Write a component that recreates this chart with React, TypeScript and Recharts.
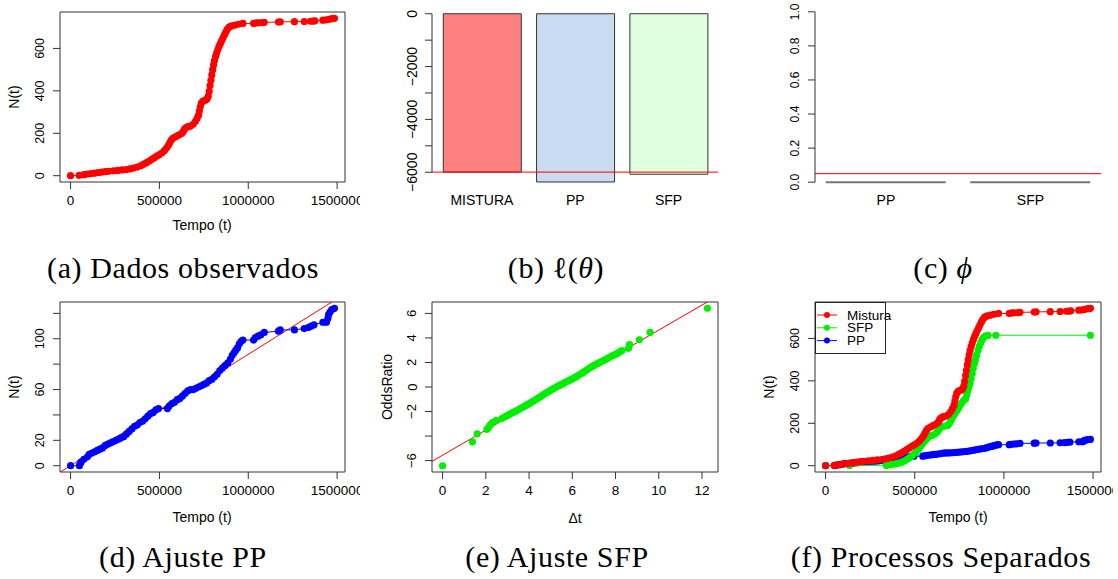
import React from "react";
import {
  Bar,
  BarChart,
  Cell,
  Legend,
  ReferenceArea,
  ReferenceLine,
  Scatter,
  ScatterChart,
  XAxis,
  YAxis,
} from "recharts";

const SANS = "'Liberation Sans', Arial, Helvetica, sans-serif";
const SERIF = "'Liberation Serif', 'Times New Roman', serif";
const RED = "#ff0000";
const GREEN = "#00ee00";
const BLUE = "#0000ff";
const AXIS = "#333333";

// N(t) of the mixed process (a) and (f)
const MISTURA: [number, number][] = [
  [0, 0], [48000, 2], [75000, 5], [95000, 8], [115000, 10], [135000, 12], [155000, 15],
  [175000, 17], [195000, 19], [215000, 21], [240000, 23], [265000, 25], [290000, 27],
  [315000, 29], [335000, 32], [355000, 36], [375000, 41], [395000, 47], [410000, 54],
  [425000, 60], [440000, 68], [455000, 76], [470000, 84], [485000, 92], [500000, 100],
  [515000, 108], [528000, 118], [540000, 130], [550000, 142], [558000, 155], [566000, 167],
  [575000, 176], [590000, 183], [605000, 190], [620000, 196], [632000, 205], [640000, 218],
  [648000, 226], [660000, 231], [675000, 234], [690000, 242], [702000, 255], [712000, 270],
  [720000, 285], [725000, 305], [730000, 325], [736000, 342], [745000, 352], [758000, 356],
  [768000, 362], [775000, 375], [780000, 398], [785000, 425], [790000, 450], [795000, 475],
  [800000, 500], [805000, 522], [810000, 543], [816000, 562], [822000, 578], [829000, 595],
  [836000, 610], [843000, 623], [850000, 636], [858000, 650], [866000, 664], [874000, 678],
  [882000, 690], [892000, 700], [905000, 706], [925000, 710], [945000, 714], [970000, 718],
  [1030000, 718], [1045000, 720], [1060000, 721], [1080000, 722], [1090000, 723],
  [1170000, 724], [1180000, 725], [1260000, 726], [1315000, 727], [1350000, 728],
  [1365000, 729], [1375000, 730], [1420000, 733], [1440000, 735], [1455000, 737],
  [1470000, 740], [1485000, 742],
];

const SFP: [number, number][] = [
  [0, 0], [134000, 1], [340000, 2], [355000, 4], [370000, 6], [385000, 8], [400000, 11],
  [415000, 14], [430000, 18], [445000, 24], [460000, 32], [475000, 40], [490000, 50],
  [505000, 62], [520000, 76], [530000, 88], [540000, 100], [550000, 110], [560000, 120],
  [570000, 130], [580000, 138], [595000, 142], [610000, 148], [625000, 158], [635000, 168],
  [645000, 180], [655000, 186], [670000, 187], [685000, 190], [695000, 200], [705000, 215],
  [715000, 232], [725000, 245], [735000, 258], [745000, 270], [755000, 285], [765000, 298],
  [775000, 308], [785000, 315], [792000, 335], [798000, 355], [804000, 372], [810000, 388],
  [816000, 410], [822000, 433], [828000, 458], [834000, 482], [840000, 500], [847000, 522],
  [855000, 545], [862000, 563], [870000, 580], [877000, 594], [885000, 604], [895000, 611],
  [910000, 614], [955000, 615], [1485000, 615],
];

const PP: [number, number][] = [
  [0, 0], [50000, 0], [55000, 2], [60000, 3], [75000, 5], [95000, 7], [105000, 9],
  [120000, 10], [135000, 11], [150000, 12], [165000, 13], [180000, 14], [195000, 16],
  [210000, 17], [225000, 18], [240000, 19], [255000, 20], [270000, 21], [285000, 22],
  [300000, 23], [315000, 25], [330000, 27], [345000, 29], [360000, 31], [375000, 32],
  [390000, 34], [405000, 35], [420000, 37], [435000, 39], [450000, 41], [465000, 42],
  [480000, 44], [495000, 45], [545000, 45], [555000, 47], [570000, 49], [585000, 50],
  [600000, 52], [615000, 53], [630000, 55], [645000, 57], [660000, 59], [675000, 60],
  [690000, 60], [705000, 61], [720000, 62], [735000, 63], [750000, 64], [765000, 65],
  [780000, 67], [795000, 68], [810000, 70], [825000, 72], [840000, 75], [855000, 77],
  [870000, 79], [885000, 81], [900000, 84], [910000, 87], [920000, 89], [930000, 91],
  [940000, 93], [950000, 96], [960000, 98], [970000, 99], [1030000, 99], [1040000, 101],
  [1055000, 102], [1070000, 103], [1090000, 105], [1170000, 106], [1180000, 107],
  [1260000, 107], [1315000, 108], [1340000, 109], [1355000, 110], [1370000, 111],
  [1420000, 113], [1440000, 113], [1448000, 116], [1452000, 119], [1460000, 121],
  [1470000, 123], [1485000, 124],
];

// panel (e): Δt against OddsRatio
const ODDS: [number, number][] = [
  [0, -6.42], [1.38, -4.47], [1.6, -3.82], [2.05, -3.45], [2.12, -3.3], [2.2, -3.1],
  [2.3, -2.9], [2.48, -2.72], [2.75, -2.55], [2.9, -2.42], [3.0, -2.32], [3.1, -2.22],
  [3.2, -2.12], [3.3, -2.04], [3.4, -1.95], [3.5, -1.86], [3.6, -1.76], [3.7, -1.66],
  [3.8, -1.56], [3.9, -1.46], [4.0, -1.36], [4.1, -1.25], [4.2, -1.14], [4.3, -1.04],
  [4.4, -0.93], [4.5, -0.82], [4.6, -0.7], [4.7, -0.58], [4.8, -0.47], [4.9, -0.37],
  [5.0, -0.27], [5.1, -0.16], [5.2, -0.06], [5.3, 0.04], [5.4, 0.13], [5.5, 0.22],
  [5.6, 0.31], [5.7, 0.4], [5.8, 0.49], [5.9, 0.58], [6.0, 0.67], [6.1, 0.76],
  [6.2, 0.86], [6.3, 0.97], [6.4, 1.08], [6.5, 1.19], [6.6, 1.3], [6.7, 1.42],
  [6.8, 1.55], [6.9, 1.66], [7.0, 1.76], [7.1, 1.85], [7.2, 1.94], [7.3, 2.03],
  [7.4, 2.12], [7.5, 2.2], [7.6, 2.3], [7.7, 2.4], [7.8, 2.5], [7.9, 2.58], [8.0, 2.66],
  [8.1, 2.76], [8.2, 2.87], [8.3, 2.97], [8.6, 3.15], [8.65, 3.45], [9.1, 3.85],
  [9.6, 4.45], [12.25, 6.42],
];

// fitted lines (abline) for (d) and (e)
const PP_FIT = [{ t: -100000, n: -8.66 }, { t: 1600000, n: 140.3 }];
const ODDS_FIT = [{ x: -1, y: -6.58 }, { x: 13, y: 7.7 }];

// panel (b): log-likelihoods
const LIK_NAMES = ["MISTURA", "PP", "SFP"];
const LIK_VALUES = [-5995, -6370, -6075];
const LIK_COLORS = ["#ff8080", "#c8dbf0", "#e0ffe0"];
const LIK_TICKS = [0, -1000, -2000, -3000, -4000, -5000, -6000];
const LIK_LABELS = [0, -2000, -4000, -6000];

// panel (c): phi
const PHI_NAMES = ["PP", "SFP"];
const PHI_VALUES = [0, 0];
const PHI_LEVEL = 0.05;
const PHI_TICKS = [0, 0.2, 0.4, 0.6, 0.8, 1];

const TIME_TICKS = [0, 500000, 1000000, 1500000];
const COUNT_TICKS = [0, 200, 400, 600];
const PP_TICKS = [0, 20, 40, 60, 80, 100, 120];
const PP_LABELS = [0, 20, 60, 100];
const ODDS_TICKS = [-6, -4, -2, 0, 2, 4, 6];
const ODDS_LABELS = [-6, -2, 0, 2, 4, 6];
const DT_TICKS = [0, 2, 4, 6, 8, 10, 12];

const TIME_DOMAIN = [-59400, 1544400];
const COUNT_DOMAIN = [-29.7, 771.7];
const PP_DOMAIN = [-4.96, 128.96];
const DT_DOMAIN = [-0.49, 12.74];
const ODDS_DOMAIN = [-6.93, 6.93];
const LIK_X = [0.465, 3.53];
const LIK_Y = [-6635, 255];
const PHI_X = [0.509, 2.488];
const PHI_Y = [-0.04, 1.04];

const SEPARATE = [
  { name: "Mistura", color: RED },
  { name: "SFP", color: GREEN },
  { name: "PP", color: BLUE },
];

const toPoints = (rows: [number, number][]) => rows.map(([t, n]) => ({ t, n }));
const minus = (s: string) => s.replace("-", "\u2212");

function XTick(props: any) {
  const { x, y, payload, fmt, size = 13.5 } = props;
  const label = fmt ? fmt(payload.value) : minus(String(payload.value));
  return (
    <text x={x} y={y} textAnchor="middle" dominantBaseline="central" fontFamily={SANS} fontSize={size} fill="#000">
      {label}
    </text>
  );
}

function YTick(props: any) {
  const { x, y, payload, show, fmt, size = 12.5 } = props;
  const v = payload.value;
  if (show && !show.some((s: number) => Math.abs(s - v) < 1e-9)) return null;
  const label = fmt ? fmt(v) : minus(String(v));
  return (
    <text
      x={x}
      y={y}
      transform={`rotate(-90 ${x} ${y})`}
      textAnchor="middle"
      dominantBaseline="central"
      fontFamily={SANS}
      fontSize={size}
      fill="#000"
    >
      {label}
    </text>
  );
}

const dot = (color: string) => (p: any) => <circle cx={p.cx} cy={p.cy} r={3.6} fill={color} />;

function Title({ x, y, children, rotate = false, size = 14 }: any) {
  return (
    <div
      style={{
        position: "absolute",
        left: x,
        top: y,
        transform: `translate(-50%, -50%)${rotate ? " rotate(-90deg)" : ""}`,
        fontFamily: SANS,
        fontSize: size,
        lineHeight: 1,
        whiteSpace: "nowrap",
        color: "#000",
      }}
    >
      {children}
    </div>
  );
}

function Caption({ x, y, children }: any) {
  return (
    <div
      style={{
        position: "absolute",
        left: x,
        top: y,
        transform: "translate(-50%, -50%)",
        fontFamily: SERIF,
        fontSize: 30,
        letterSpacing: 0.6,
        lineHeight: 1,
        whiteSpace: "nowrap",
        color: "#000",
      }}
    >
      {children}
    </div>
  );
}

function LegendBox() {
  return (
    <svg width={71} height={52} style={{ overflow: "visible", display: "block" }}>
      <rect x={0.5} y={0.5} width={70} height={51} fill="none" stroke="#222" />
      {SEPARATE.map((s, i) => {
        const cy = 13 + i * 12.8;
        return (
          <g key={s.name}>
            <line x1={2} x2={22} y1={cy} y2={cy} stroke={s.color} />
            <circle cx={12} cy={cy} r={3} fill={s.color} />
            <text x={32} y={cy} dominantBaseline="central" fontFamily={SANS} fontSize={13.5} fill="#000">
              {s.name}
            </text>
          </g>
        );
      })}
    </svg>
  );
}

const At = ({ left, top, children }: any) => (
  <div style={{ position: "absolute", left, top }}>{children}</div>
);

export default function App() {
  const likData = LIK_NAMES.map((name, i) => ({ pos: i + 1, name, value: LIK_VALUES[i] }));
  const phiData = PHI_NAMES.map((name, i) => ({ pos: i + 1, name, value: PHI_VALUES[i] }));
  const oddsData = ODDS.map(([x, y]) => ({ x, y }));

  return (
    <div style={{ position: "absolute", left: 0, top: 0, width: 1118, height: 579, background: "#fff", overflow: "hidden" }}>
      {/* (a) observed data */}
      <At left={0} top={0}>
        <ScatterChart width={360} height={240} margin={{ top: 12, right: 15, bottom: 18, left: 20 }}>
          <XAxis type="number" dataKey="t" domain={TIME_DOMAIN} ticks={TIME_TICKS} interval={0} allowDataOverflow
            height={40} axisLine={false} tickSize={7} tickMargin={11} stroke={AXIS} tick={(p: any) => <XTick {...p} />} />
          <YAxis type="number" dataKey="n" domain={COUNT_DOMAIN} ticks={COUNT_TICKS} interval={0} allowDataOverflow
            width={40} axisLine={false} tickSize={7} tickMargin={13} stroke={AXIS} tick={(p: any) => <YTick {...p} />} />
          <ReferenceArea x1={TIME_DOMAIN[0]} x2={TIME_DOMAIN[1]} y1={COUNT_DOMAIN[0]} y2={COUNT_DOMAIN[1]}
            fill="none" stroke={AXIS} ifOverflow="visible" />
          <Scatter data={toPoints(MISTURA)} fill={RED} line={{ stroke: RED, strokeWidth: 1 }} shape={dot(RED)} isAnimationActive={false} />
        </ScatterChart>
      </At>
      <Title x={14} y={97} rotate>N(t)</Title>
      <Title x={202} y={225}>Tempo (t)</Title>

      {/* (b) log-likelihood */}
      <At left={370} top={0}>
        <BarChart width={370} height={240} data={likData} margin={{ top: 7, right: 22, bottom: 11, left: 22 }}>
          <XAxis type="number" dataKey="pos" domain={LIK_X} ticks={[1, 2, 3]} interval={0} allowDataOverflow
            height={40} axisLine={false} tickLine={false} tickSize={7} tickMargin={4}
            tick={(p: any) => <XTick {...p} size={14} fmt={(v: number) => LIK_NAMES[v - 1]} />} />
          <YAxis type="number" domain={LIK_Y} ticks={LIK_TICKS} interval={0} allowDataOverflow
            width={40} axisLine={false} tickSize={7} tickMargin={13} stroke={AXIS}
            tick={(p: any) => <YTick {...p} size={14} show={LIK_LABELS} />} />
          <Bar dataKey="value" barSize={78} stroke={AXIS} strokeWidth={1} isAnimationActive={false}>
            {likData.map((d, i) => (
              <Cell key={d.name} fill={LIK_COLORS[i]} />
            ))}
          </Bar>
          <ReferenceLine y={LIK_VALUES[0]} stroke={RED} strokeWidth={1} />
          <ReferenceLine segment={[{ x: LIK_X[0], y: 0 }, { x: LIK_X[0], y: -6000 }]} stroke={AXIS} ifOverflow="visible" />
        </BarChart>
      </At>

      {/* (c) phi */}
      <At left={740} top={0}>
        <BarChart width={378} height={240} data={phiData} margin={{ top: 5, right: 17, bottom: 11, left: 35 }}>
          <XAxis type="number" dataKey="pos" domain={PHI_X} ticks={[1, 2]} interval={0} allowDataOverflow
            height={40} axisLine={false} tickLine={false} tickSize={7} tickMargin={4}
            tick={(p: any) => <XTick {...p} size={14} fmt={(v: number) => PHI_NAMES[v - 1]} />} />
          <YAxis type="number" domain={PHI_Y} ticks={PHI_TICKS} interval={0} allowDataOverflow
            width={40} axisLine={false} tickSize={7} tickMargin={13} stroke={AXIS}
            tick={(p: any) => <YTick {...p} size={12} fmt={(v: number) => v.toFixed(1)} />} />
          <Bar dataKey="value" barSize={120} isAnimationActive={false}
            shape={(p: any) => <line x1={p.x} x2={p.x + p.width} y1={p.y} y2={p.y} stroke="#777" strokeWidth={2} />} />
          <ReferenceLine y={PHI_LEVEL} stroke={RED} strokeWidth={1} />
          <ReferenceLine segment={[{ x: PHI_X[0], y: 0 }, { x: PHI_X[0], y: 1 }]} stroke={AXIS} ifOverflow="visible" />
        </BarChart>
      </At>

      {/* (d) PP fit */}
      <At left={0} top={290}>
        <ScatterChart width={360} height={240} margin={{ top: 12, right: 15, bottom: 18, left: 20 }}>
          <XAxis type="number" dataKey="t" domain={TIME_DOMAIN} ticks={TIME_TICKS} interval={0} allowDataOverflow
            height={40} axisLine={false} tickSize={7} tickMargin={11} stroke={AXIS} tick={(p: any) => <XTick {...p} />} />
          <YAxis type="number" dataKey="n" domain={PP_DOMAIN} ticks={PP_TICKS} interval={0} allowDataOverflow
            width={40} axisLine={false} tickSize={7} tickMargin={13} stroke={AXIS}
            tick={(p: any) => <YTick {...p} show={PP_LABELS} />} />
          <ReferenceArea x1={TIME_DOMAIN[0]} x2={TIME_DOMAIN[1]} y1={PP_DOMAIN[0]} y2={PP_DOMAIN[1]}
            fill="none" stroke={AXIS} ifOverflow="visible" />
          <Scatter data={toPoints(PP)} fill={BLUE} line={{ stroke: BLUE, strokeWidth: 1 }} shape={dot(BLUE)} isAnimationActive={false} />
          <ReferenceLine segment={[{ x: PP_FIT[0].t, y: PP_FIT[0].n }, { x: PP_FIT[1].t, y: PP_FIT[1].n }]}
            stroke={RED} strokeWidth={1} ifOverflow="hidden" />
        </ScatterChart>
      </At>
      <Title x={14} y={387} rotate>N(t)</Title>
      <Title x={202} y={517}>Tempo (t)</Title>

      {/* (e) SFP fit */}
      <At left={370} top={290}>
        <ScatterChart width={370} height={240} margin={{ top: 12, right: 22, bottom: 18, left: 22 }}>
          <XAxis type="number" dataKey="x" domain={DT_DOMAIN} ticks={DT_TICKS} interval={0} allowDataOverflow
            height={40} axisLine={false} tickSize={7} tickMargin={11} stroke={AXIS} tick={(p: any) => <XTick {...p} />} />
          <YAxis type="number" dataKey="y" domain={ODDS_DOMAIN} ticks={ODDS_TICKS} interval={0} allowDataOverflow
            width={40} axisLine={false} tickSize={7} tickMargin={13} stroke={AXIS}
            tick={(p: any) => <YTick {...p} size={13} show={ODDS_LABELS} />} />
          <ReferenceArea x1={DT_DOMAIN[0]} x2={DT_DOMAIN[1]} y1={ODDS_DOMAIN[0]} y2={ODDS_DOMAIN[1]}
            fill="none" stroke={AXIS} ifOverflow="visible" />
          <Scatter data={oddsData} fill={GREEN} shape={dot(GREEN)} isAnimationActive={false} />
          <ReferenceLine segment={[ODDS_FIT[0], ODDS_FIT[1]]} stroke={RED} strokeWidth={1} ifOverflow="hidden" />
        </ScatterChart>
      </At>
      <Title x={387} y={387} rotate>OddsRatio</Title>
      <Title x={575} y={518}>Δt</Title>

      {/* (f) separated processes */}
      <At left={740} top={290}>
        <ScatterChart width={373} height={240} margin={{ top: 12, right: 12, bottom: 18, left: 35 }}>
          <XAxis type="number" dataKey="t" domain={TIME_DOMAIN} ticks={TIME_TICKS} interval={0} allowDataOverflow
            height={40} axisLine={false} tickSize={7} tickMargin={11} stroke={AXIS} tick={(p: any) => <XTick {...p} />} />
          <YAxis type="number" dataKey="n" domain={COUNT_DOMAIN} ticks={COUNT_TICKS} interval={0} allowDataOverflow
            width={40} axisLine={false} tickSize={7} tickMargin={13} stroke={AXIS} tick={(p: any) => <YTick {...p} />} />
          <ReferenceArea x1={TIME_DOMAIN[0]} x2={TIME_DOMAIN[1]} y1={COUNT_DOMAIN[0]} y2={COUNT_DOMAIN[1]}
            fill="none" stroke={AXIS} ifOverflow="visible" />
          <Scatter name="PP" data={toPoints(PP)} fill={BLUE} line={{ stroke: BLUE, strokeWidth: 1 }} shape={dot(BLUE)} isAnimationActive={false} />
          <Scatter name="SFP" data={toPoints(SFP)} fill={GREEN} line={{ stroke: GREEN, strokeWidth: 1 }} shape={dot(GREEN)} isAnimationActive={false} />
          <Scatter name="Mistura" data={toPoints(MISTURA)} fill={RED} line={{ stroke: RED, strokeWidth: 1 }} shape={dot(RED)} isAnimationActive={false} />
          <Legend layout="vertical" align="center" verticalAlign="middle"
            wrapperStyle={{ left: 75, top: 12, width: 71, height: 52 }} content={() => <LegendBox />} />
        </ScatterChart>
      </At>
      <Title x={769} y={387} rotate>N(t)</Title>
      <Title x={958} y={517}>Tempo (t)</Title>

      <Caption x={183} y={268}>(a) Dados observados</Caption>
      <Caption x={556} y={268}>
        (b) ℓ(<i>θ</i>)
      </Caption>
      <Caption x={943} y={268}>
        (c) <i>ϕ</i>
      </Caption>
      <Caption x={183} y={557}>(d) Ajuste PP</Caption>
      <Caption x={557} y={557}>(e) Ajuste SFP</Caption>
      <Caption x={941} y={557}>(f) Processos Separados</Caption>
    </div>
  );
}
